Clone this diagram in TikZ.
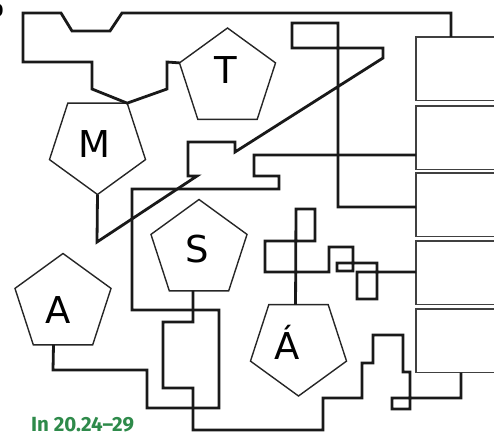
\documentclass[tikz,border=0pt]{standalone}
\usepackage{fontspec}
\setmainfont{DejaVu Sans}
\newfontfamily\labelfont{Fira Sans}
\usetikzlibrary{shapes.geometric,calc}
\definecolor{labelgreen}{RGB}{46,138,74}
\tikzset{
  penta/.style={regular polygon, regular polygon sides=5, minimum size=101pt,
    inner sep=0pt, outer sep=0pt, draw=black!85, line width=1.4pt},
  pentadown/.style={penta, shape border rotate=180},
  letter/.style={anchor=base, inner sep=0pt, font=\fontsize{37}{37}\selectfont},
  answerbox/.style={rectangle, draw=black!75, line width=1.5pt, minimum width=120pt,
    minimum height=63.5pt, inner sep=0pt, outer sep=0pt, anchor=north west},
  maze/.style={draw=black!90, line width=2.8pt, line join=miter},
}
\begin{document}
\begin{tikzpicture}[x=1pt, y=-1pt]
\useasboundingbox (0,0) rectangle (494,436);

% pentagons
\node[penta] (T) at (227.5,78.5) {};
\node[pentadown] (M) at (97.5,144) {};
\node[penta] (S) at (199,250) {};
\node[penta] (A) at (63,304) {};
\node[pentadown] (AA) at (298.5,345.5) {};

% letters
\node[letter] (tT) at (226,83) {T};
\node[letter] (tM) at (94,157) {M};
\node[letter] (tS) at (197,262) {S};
\node[letter] (tA) at (58,323) {A};
\node[letter] (tAA) at (287,359) {Á};

% boxes
\node[answerbox] (b1) at (416,37) {};
\node[answerbox] (b2) at (416,106) {};
\node[answerbox] (b3) at (416,173) {};
\node[answerbox] (b4) at (416,241) {};
\node[answerbox] (b5) at (416,309) {};

% T path -> box 1
\draw[maze] (T.corner 2) -- (167,62) -- (167,89) -- (M.corner 3) -- (92,89) -- (92,62)
  -- (23,62) -- (23,13) -- (61,13) -- (72,31) -- (110,31) -- (122,13) -- (451,13)
  -- ($(b1.north west)+(35,0)$);

% M path -> box 3
\draw[maze] (M.corner 1) -- (97,242) -- (197,176) -- (188,176) -- (188,142) -- (235,142)
  -- (235,152) -- (383,58) -- (383,48) -- (292,48) -- (292,23) -- (338,23) -- (338,207)
  -- ($(b3.north west)+(0,34)$);

% A path -> box 2
\draw[maze] ($(A.corner 3)!0.34!(A.corner 4)$) -- (53,370) -- (147,370) -- (147,408)
  -- (219,408) -- (219,310) -- (132,310) -- (132,189) -- (279,189) -- (279,176)
  -- (254,176) -- (254,155) -- ($(b2.north west)+(0,49)$);

% S path -> box 5
\draw[maze] ($(S.corner 3)!0.4!(S.corner 4)$) -- (193,322) -- (163,322) -- (163,388)
  -- (193,388) -- (193,430) -- (323,430) -- (323,398) -- (362,398) -- (362,363)
  -- (373,363) -- (373,335) -- (403,335) -- (403,372) -- (410,372) -- (410,409)
  -- (392,409) -- (392,398) -- (461,398) -- ($(b5.south west)+(45,0)$);

% A-acute path -> box 4
\draw[maze] ($(AA.corner 4)!0.45!(AA.corner 3)$) -- (296,209) -- (315,209) -- (315,241)
  -- (265,241) -- (265,272) -- (329,272) -- (329,247) -- (353,247) -- (353,271)
  -- (337,271) -- (337,263) -- (377,263) -- (377,299) -- (357,299) -- (357,272)
  -- ($(b4.north west)+(0,31)$);

% labels
\node[anchor=east, inner sep=0pt, font=\labelfont\bfseries\fontsize{20}{20}\selectfont] (num) at (3.5,11) {D};
\node[anchor=base west, inner sep=0pt, text=labelgreen,
  font=\labelfont\bfseries\fontsize{20.5}{20.5}\selectfont] (ref) at (31,431) {In 20.24–29};
\end{tikzpicture}
\end{document}
